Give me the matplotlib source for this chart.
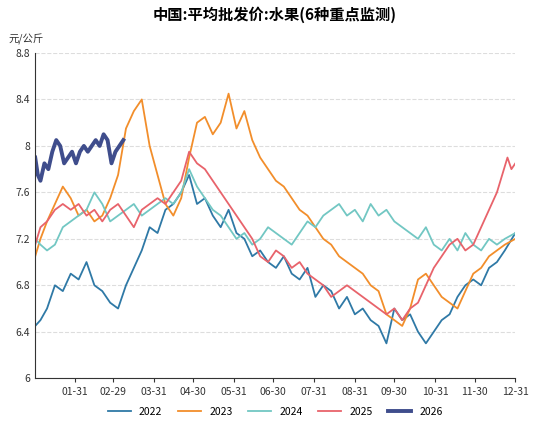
import matplotlib.pyplot as plt

plt.rcParams['font.family'] = ['Noto Sans CJK SC', 'DejaVu Sans']

# day-of-year (leap-year axis) and price, 元/公斤
d22 = [1, 5, 10, 16, 22, 28, 34, 40, 46, 52, 58, 64, 70, 76, 82, 88, 94, 100, 106, 112, 118, 124, 130, 136, 142, 148, 154, 160, 166, 172, 178, 184, 190, 196, 202, 208, 214, 220, 226, 232, 238, 244, 250, 256, 262, 268, 274, 280, 286, 292, 298, 304, 310, 316, 322, 328, 334, 340, 346, 352, 358, 366]
v22 = [6.45, 6.5, 6.6, 6.8, 6.75, 6.9, 6.85, 7.0, 6.8, 6.75, 6.65, 6.6, 6.8, 6.95, 7.1, 7.3, 7.25, 7.45, 7.5, 7.6, 7.75, 7.5, 7.55, 7.4, 7.3, 7.45, 7.25, 7.2, 7.05, 7.1, 7.0, 6.95, 7.05, 6.9, 6.85, 6.95, 6.7, 6.8, 6.75, 6.6, 6.7, 6.55, 6.6, 6.5, 6.45, 6.3, 6.6, 6.5, 6.55, 6.4, 6.3, 6.4, 6.5, 6.55, 6.7, 6.8, 6.85, 6.8, 6.95, 7.0, 7.1, 7.25]
d23 = [1, 5, 10, 16, 22, 28, 34, 40, 46, 52, 58, 64, 70, 76, 82, 88, 94, 100, 106, 112, 118, 124, 130, 136, 142, 148, 154, 160, 166, 172, 178, 184, 190, 196, 202, 208, 214, 220, 226, 232, 238, 244, 250, 256, 262, 268, 274, 280, 286, 292, 298, 304, 310, 316, 322, 328, 334, 340, 346, 352, 358, 366]
v23 = [7.05, 7.2, 7.35, 7.5, 7.65, 7.55, 7.4, 7.45, 7.35, 7.4, 7.55, 7.75, 8.15, 8.3, 8.4, 8.0, 7.75, 7.5, 7.4, 7.55, 7.9, 8.2, 8.25, 8.1, 8.2, 8.45, 8.15, 8.3, 8.05, 7.9, 7.8, 7.7, 7.65, 7.55, 7.45, 7.4, 7.3, 7.2, 7.15, 7.05, 7.0, 6.95, 6.9, 6.8, 6.75, 6.55, 6.5, 6.45, 6.6, 6.85, 6.9, 6.8, 6.7, 6.65, 6.6, 6.75, 6.9, 6.95, 7.05, 7.1, 7.15, 7.2]
d24 = [1, 5, 10, 16, 22, 28, 34, 40, 46, 52, 58, 64, 70, 76, 82, 88, 94, 100, 106, 112, 118, 124, 130, 136, 142, 148, 154, 160, 166, 172, 178, 184, 190, 196, 202, 208, 214, 220, 226, 232, 238, 244, 250, 256, 262, 268, 274, 280, 286, 292, 298, 304, 310, 316, 322, 328, 334, 340, 346, 352, 358, 366]
v24 = [7.2, 7.15, 7.1, 7.15, 7.3, 7.35, 7.4, 7.45, 7.6, 7.5, 7.35, 7.4, 7.45, 7.5, 7.4, 7.45, 7.5, 7.55, 7.5, 7.6, 7.8, 7.65, 7.55, 7.45, 7.4, 7.3, 7.2, 7.25, 7.15, 7.2, 7.3, 7.25, 7.2, 7.15, 7.25, 7.35, 7.3, 7.4, 7.45, 7.5, 7.4, 7.45, 7.35, 7.5, 7.4, 7.45, 7.35, 7.3, 7.25, 7.2, 7.3, 7.15, 7.1, 7.2, 7.1, 7.25, 7.15, 7.1, 7.2, 7.15, 7.2, 7.25]
d25 = [1, 5, 10, 16, 22, 28, 34, 40, 46, 52, 58, 64, 70, 76, 82, 88, 94, 100, 106, 112, 118, 124, 130, 136, 142, 148, 154, 160, 166, 172, 178, 184, 190, 196, 202, 208, 214, 220, 226, 232, 238, 244, 250, 256, 262, 268, 274, 280, 286, 292, 298, 304, 310, 316, 322, 328, 334, 340, 346, 352, 356, 360, 363, 366]
v25 = [7.15, 7.3, 7.35, 7.45, 7.5, 7.45, 7.5, 7.4, 7.45, 7.35, 7.45, 7.5, 7.4, 7.3, 7.45, 7.5, 7.55, 7.5, 7.6, 7.7, 7.95, 7.85, 7.8, 7.7, 7.6, 7.5, 7.4, 7.3, 7.2, 7.05, 7.0, 7.1, 7.05, 6.95, 7.0, 6.9, 6.85, 6.8, 6.7, 6.75, 6.8, 6.75, 6.7, 6.65, 6.6, 6.55, 6.6, 6.5, 6.6, 6.65, 6.8, 6.95, 7.05, 7.15, 7.2, 7.1, 7.15, 7.3, 7.45, 7.6, 7.75, 7.9, 7.8, 7.85]
d26 = [1, 3, 5, 8, 11, 14, 17, 20, 23, 26, 29, 32, 35, 38, 41, 44, 47, 50, 53, 56, 59, 62, 65, 68]
v26 = [7.9, 7.75, 7.7, 7.85, 7.8, 7.95, 8.05, 8.0, 7.85, 7.9, 7.95, 7.85, 7.95, 8.0, 7.95, 8.0, 8.05, 8.0, 8.1, 8.05, 7.85, 7.95, 8.0, 8.05]

tick_days = [31, 60, 91, 121, 152, 182, 213, 244, 274, 305, 335, 366]
tick_labels = ['01-31', '02-29', '03-31', '04-30', '05-31', '06-30', '07-31', '08-31', '09-30', '10-31', '11-30', '12-31']

fig, ax = plt.subplots(figsize=(5.5, 4.24), dpi=100)
fig.subplots_adjust(left=0.064, right=0.937, top=0.875, bottom=0.108)

ax.plot(d22, v22, color='#2f79a6', lw=1.3, label='2022')
ax.plot(d23, v23, color='#f28e2b', lw=1.3, label='2023')
ax.plot(d24, v24, color='#72c7c3', lw=1.3, label='2024')
ax.plot(d25, v25, color='#e8636b', lw=1.3, label='2025')
ax.plot(d26, v26, color='#3f4d8c', lw=2.8, label='2026')

ax.set_xlim(1, 366)
ax.set_ylim(6, 8.8)
ax.set_yticks([6, 6.4, 6.8, 7.2, 7.6, 8, 8.4, 8.8])
ax.set_yticklabels(['6', '6.4', '6.8', '7.2', '7.6', '8', '8.4', '8.8'])
ax.set_xticks(tick_days)
ax.set_xticklabels(tick_labels)
ax.tick_params(labelsize=7.5, colors='#333333', length=3)
ax.tick_params(axis='y', length=0)
ax.grid(axis='y', ls='--', color='#dddddd', lw=0.8)
for s in ['top', 'right']:
    ax.spines[s].set_visible(False)
ax.spines['left'].set_color('#333333')
ax.spines['bottom'].set_color('#333333')

fig.suptitle('中国:平均批发价:水果(6种重点监测)', fontsize=11, fontweight='bold', y=0.985)
fig.text(0.015, 0.9, '元/公斤', fontsize=7.5, color='#333333')
ax.legend(loc='upper center', bbox_to_anchor=(0.5, -0.06), ncol=5, frameon=False, fontsize=7.5, handlelength=2.2, columnspacing=1.5)

fig.savefig('out.png')
